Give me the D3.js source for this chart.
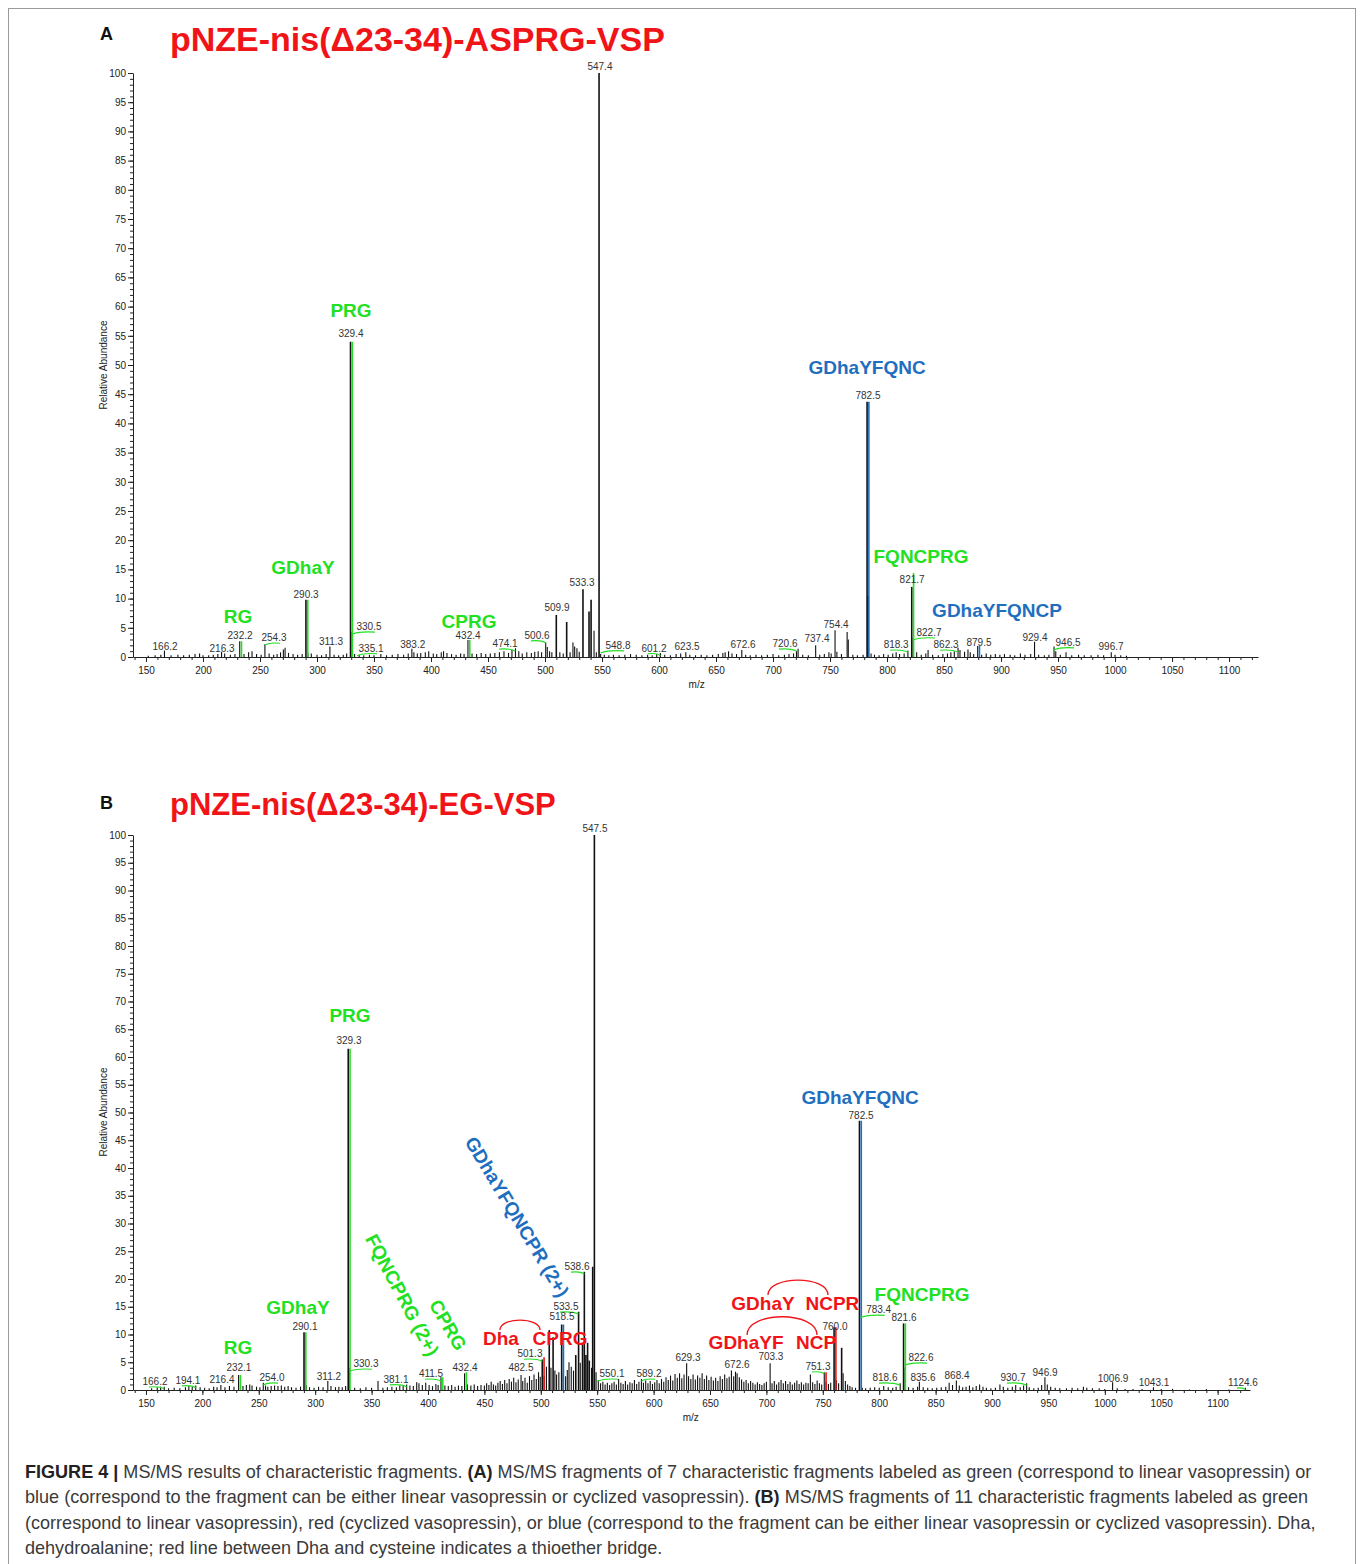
<!DOCTYPE html>
<html><head><meta charset="utf-8">
<script src="https://cdn.jsdelivr.net/npm/d3@7"></script>
<style>
body{margin:0;background:#fff;}
svg{display:block;font-family:"Liberation Sans",Arial,sans-serif;}
</style></head><body>
<svg id="c" width="1360" height="1564"></svg>
<script>
// ---------------- DATA ----------------
const xTickValues=[150,200,250,300,350,400,450,500,550,600,650,700,750,800,850,900,950,1000,1050,1100];
const yTickValues=[0,5,10,15,20,25,30,35,40,45,50,55,60,65,70,75,80,85,90,95,100];
const panelLetters=["A","B"];
const titles=["pNZE-nis(\u039423-34)-ASPRG-VSP","pNZE-nis(\u039423-34)-EG-VSP"];
const yAxisTitle="Relative Abundance";
const xAxisTitle="m/z";

// Panel A spectrum: [m/z, relative abundance]
const peaksA=[[152,0.2],[158,0.3],[163,0.4],[166.2,1.1],[172,0.3],[178,0.4],[183,0.3],[188,0.4],[193,0.5],[197,0.6],[200,0.3],[205,0.3],[209,0.4],[213,0.5],[216.3,0.9],[219,0.6],[224,0.4],[228,0.5],[232.2,2.7],[236,0.5],[240,0.8],[243,1.0],[247,0.5],[251,0.4],[254.3,2.2],[258,0.6],[262,0.4],[265,0.5],[268,0.8],[270.5,1.3],[272,1.6],[275,0.7],[279,0.5],[283,0.4],[287,0.5],[290.3,9.8],[292,0.7],[295,0.6],[300,0.4],[304,0.3],[308,0.5],[311.3,1.8],[315,0.4],[319,0.3],[323,0.4],[326,0.6],[329.4,54],[330.8,4.3],[333,0.5],[337,0.4],[341,0.3],[346,0.4],[350,0.3],[356,0.5],[361,0.3],[366,0.4],[371,0.5],[376,0.4],[380,0.6],[383.2,1.4],[385,0.8],[388,0.6],[391,0.7],[395,0.8],[398,1.0],[402,0.6],[405,0.5],[409,0.8],[411,1.0],[414,0.7],[418,0.5],[422,0.4],[426,0.6],[429,0.5],[432.4,2.9],[436,0.6],[440,0.5],[444,0.7],[448,0.5],[452,0.6],[456,0.7],[460,0.8],[464,1.0],[468,0.7],[471,1.2],[474.1,1.5],[477,1.0],[480,0.6],[484,0.8],[488,0.7],[491,0.9],[494,1.0],[497,0.8],[500.6,2.5],[502,1.7],[504,1.0],[506,0.8],[509.9,7.2],[513,0.8],[516,0.6],[519,6.0],[522,0.8],[524.5,2.5],[526,1.8],[528,1.5],[530,0.9],[533.3,11.6],[538.6,7.8],[540.4,9.8],[543,4.5],[545,0.8],[547.4,100],[548.8,0.5],[552,0.4],[556,0.3],[560,0.4],[565,0.3],[570,0.4],[575,0.5],[580,0.4],[585,0.3],[590,0.4],[594,0.3],[598,0.5],[601.2,0.7],[605,0.4],[610,0.3],[615,0.5],[619,0.6],[623.5,0.8],[627,0.4],[632,0.3],[637,0.4],[642,0.3],[647,0.4],[652,0.5],[656,0.7],[658,0.8],[661,1.0],[664,0.6],[668,0.5],[672.6,1.2],[676,0.4],[680,0.3],[685,0.4],[690,0.3],[695,0.4],[700,0.5],[705,0.3],[710,0.4],[714,0.5],[718,0.6],[720.6,1.0],[722,1.4],[726,0.4],[731,0.3],[737.4,2.0],[741,0.4],[745,0.5],[749,0.8],[751,0.6],[754.4,4.6],[756,0.9],[760,0.5],[765,4.3],[766,3.0],[770,0.4],[774,0.3],[779,0.4],[782.5,43.7],[783.5,10.5],[786,0.6],[789,0.4],[793,0.3],[797,0.5],[801,0.4],[805,0.6],[808,0.8],[811,0.5],[815,0.6],[818.3,1.1],[821.7,12],[823,3.3],[826,0.8],[830,0.4],[834,0.6],[836,1.2],[840,0.4],[845,0.3],[849,0.5],[853,0.6],[856,0.8],[859,1.0],[862.3,1.6],[864,1.2],[868,0.9],[871,1.3],[873,0.8],[876,0.5],[879.5,1.9],[883,0.4],[887,0.6],[891,0.4],[895,0.5],[899,0.4],[903,0.5],[908,0.4],[912,0.3],[917,0.6],[921,0.4],[926,0.5],[929.4,2.6],[933,0.4],[938,0.3],[942,0.4],[946.5,1.8],[948,1.0],[952,0.4],[957,0.8],[962,0.3],[968,0.4],[973,0.3],[979,0.3],[985,0.4],[990,0.3],[996.7,0.8],[1000,0.4],[1005,0.3],[1010,0.2]];

// [label, peak m/z, label m/z, label level, has leader]
const mzLabelsA=[["166.2",166.2,166.7,1.2,0],["216.3",216.3,216.7,0.9,0],["232.2",232.2,232.5,3.1,0],["254.3",254.3,262.3,2.7,1],["290.3",290.3,290.4,10.1,0],["311.3",311.3,312.3,2.05,0],["329.4",329.4,329.8,54.8,0],["330.5",330.5,345.6,4.6,1],["335.1",335.1,347.4,0.9,1],["383.2",383.2,384,1.5,0],["432.4",432.4,432.5,3.1,0],["474.1",474.1,465,1.7,1],["500.6",500.6,493,3.1,1],["509.9",509.9,510.5,7.9,0],["533.3",533.3,532.5,12.2,0],["547.4",547.4,548.2,100.5,0],["548.8",548.8,564,1.4,1],["601.2",601.2,595.6,0.9,1],["623.5",623.5,624.6,1.2,0],["672.6",672.6,673.7,1.5,0],["720.6",720.6,710.5,1.7,1],["737.4",737.4,738.6,2.6,0],["754.4",754.4,755.3,5.0,0],["782.5",782.5,783.3,44.2,0],["818.3",818.3,808,1.5,1],["821.7",821.7,822,12.7,0],["822.7",822.7,836.8,3.6,1],["862.3",862.3,851.8,1.5,1],["879.5",879.5,880.7,1.9,0],["929.4",929.4,929.8,2.7,0],["946.5",946.5,958.8,1.9,1],["996.7",996.7,996.5,1.2,0]];

// [m/z, top level, colour class]
const fragLinesA=[[232.2,2.7,"g"],[290.3,9.8,"g"],[329.4,54,"g"],[432.4,2.9,"g"],[782.5,43.7,"b"],[821.7,14.4,"g"],[879.5,1.9,"b"]];
// [text, m/z, level, colour class]
const fragLabelsA=[["PRG",329.8,58.2,"g"],["GDhaY",287.7,14.2,"g"],["RG",230.7,5.8,"g"],["CPRG",433.3,5.0,"g"],["GDhaYFQNC",782.5,48.5,"b"],["FQNCPRG",829.8,16.1,"g"],["GDhaYFQNCP",896.5,6.9,"b"]];

// Panel B spectrum
const peaksB=[[155,0.3],[160,0.5],[163,0.6],[166.2,0.6],[170,0.3],[175,0.4],[180,0.3],[185,0.5],[188,0.7],[191,0.6],[194.1,0.8],[198,0.5],[202,0.4],[206,0.3],[210,0.6],[213,0.5],[216.4,0.9],[220,0.5],[224,0.7],[228,0.6],[232.1,2.7],[236,0.7],[239,0.9],[242,1.0],[244,0.8],[248,0.6],[251,0.5],[254.0,1.3],[256,0.8],[258,0.6],[261,0.7],[264,0.8],[267,0.7],[270,0.8],[273,0.6],[276,0.7],[279,0.5],[283,0.4],[287,0.6],[290.1,10.4],[292,0.9],[295,0.5],[299,0.4],[303,0.6],[307,0.5],[311.2,1.6],[314,0.7],[318,0.5],[321,0.6],[324,0.5],[327,0.7],[329.3,61.5],[330.3,4.0],[335,0.4],[340,0.3],[345,0.5],[350,0.4],[355.7,1.6],[360,0.4],[364,0.5],[368,0.6],[372,0.5],[375,0.8],[378,0.9],[381.1,1.0],[384,0.8],[387,0.7],[390,1.4],[392,1.2],[395,0.9],[398,1.3],[401,0.9],[404,0.7],[407,1.1],[409,0.9],[411.5,2.3],[415,0.8],[418,0.7],[421,0.9],[424,0.6],[427,0.8],[430,0.7],[432.4,3.0],[435,1.0],[438,0.8],[441,1.0],[444,0.7],[447,0.9],[450,0.8],[452,1.2],[454,0.9],[456,1.5],[458,1.0],[460,0.8],[462,1.3],[464,1.6],[466,1.1],[468,1.8],[470,1.2],[472,2.0],[474,1.5],[476,2.2],[478,1.4],[480,1.9],[482.5,2.7],[484,1.6],[486,2.2],[488,1.3],[490,2.5],[492,1.8],[494,2.8],[496,2.0],[498,3.2],[499.5,2.4],[501.3,5.5],[503,2.6],[505,4.2],[507.5,10.8],[509,4.0],[510.9,9.5],[512.5,3.5],[514,2.8],[516,3.2],[518.5,11.8],[520,3.0],[522,2.5],[523.5,3.6],[525,5.0],[527,4.2],[529,3.5],[531,6.3],[533.5,14.1],[535,4.9],[537,8.5],[538.6,21.3],[540,6.3],[541.5,8.5],[543,5.3],[545,4.0],[546,22.2],[547.5,100],[549,3.2],[551,1.8],[553,1.2],[555,1.5],[557,1.0],[559,1.3],[561,0.9],[563,1.2],[565,1.5],[567,1.0],[569,2.0],[571,1.3],[573,1.1],[575,1.6],[577,1.0],[579,1.4],[581,1.2],[583,1.8],[585,1.1],[587,1.5],[589.2,2.0],[591,1.3],[593,1.7],[595,1.2],[597,1.6],[599,1.1],[601,1.4],[603,1.8],[605,1.2],[607,2.0],[609,1.5],[611,2.3],[613,1.8],[615,2.6],[617,1.7],[619,2.9],[621,2.2],[623,3.0],[625,2.1],[627,2.8],[629.3,4.8],[631,2.5],[633,2.0],[635,2.8],[637,1.9],[639,2.6],[641,2.2],[643,3.0],[645,2.0],[647,2.6],[649,1.8],[651,2.4],[653,1.7],[655,2.2],[657,1.6],[659,2.5],[661,2.0],[663,2.8],[665,2.1],[667,2.4],[669,3.5],[671,2.5],[672.6,3.3],[674,3.0],[676,2.3],[678,1.9],[680,1.5],[682,1.8],[684,1.2],[686,1.6],[688,1.3],[690,1.0],[692,1.4],[694,1.1],[696,0.9],[698,1.2],[700,1.5],[703.3,4.8],[705,1.2],[707,1.6],[709,1.0],[711,1.4],[713,1.8],[715,1.2],[717,1.6],[719,1.1],[721,1.5],[723,1.0],[725,1.3],[727,1.7],[729,1.1],[731,1.4],[733,1.0],[735,1.3],[737,1.2],[739,2.8],[741,1.4],[743,1.1],[745,1.7],[747,1.2],[749,1.0],[751.3,3.2],[753,1.5],[755,1.1],[757,1.3],[760.0,11.3],[762,1.8],[764,1.2],[766.7,7.6],[768,3.0],[770,1.6],[772,1.0],[774,0.7],[776,0.5],[779,0.4],[782.5,48.5],[785,0.4],[788,0.3],[792,0.4],[796,0.5],[800,0.4],[804,0.7],[808,0.5],[812,0.4],[815,0.6],[818.6,1.2],[821.6,12],[823,4.0],[826,0.5],[830,0.4],[834,0.6],[835.6,1.5],[839,0.5],[843,0.4],[847,0.3],[851,0.4],[855,0.5],[859,0.6],[862,1.3],[865,0.9],[868.4,1.7],[871,0.8],[874,0.5],[877,0.6],[880,0.8],[883,0.5],[886,0.7],[889,1.0],[892,0.6],[895,0.4],[899,0.3],[903,0.4],[907,1.0],[910,0.6],[914,0.4],[918,0.6],[921,0.9],[925,0.5],[928,0.8],[930.7,1.2],[933,0.5],[937,0.3],[941,0.4],[944,0.9],[946.9,2.3],[949,1.0],[952,0.6],[956,0.4],[960,0.3],[966,0.3],[971,0.4],[976,0.3],[981,0.6],[984,0.4],[989,0.3],[995,0.3],[1000,0.2],[1006.9,1.4],[1011,0.3],[1018,0.2],[1025,0.2],[1033,0.2],[1043.1,0.5],[1050,0.2],[1060,0.2],[1075,0.1],[1090,0.2],[1110,0.1],[1124.6,0.4]];

const mzLabelsB=[["166.2",166.2,158,0.9,1],["194.1",194.1,187.2,1.1,1],["216.4",216.4,217.4,1.3,0],["232.1",232.1,232.4,3.4,0],["254.0",254.0,261.7,1.6,1],["290.1",290.1,291,10.9,0],["311.2",311.2,312.2,1.8,0],["329.3",329.3,330,62.3,0],["330.3",330.3,345,4.1,1],["381.1",381.1,371.6,1.3,1],["411.5",411.5,402.7,2.3,1],["432.4",432.4,432.8,3.4,0],["482.5",482.5,482.4,3.4,0],["501.3",501.3,490.4,5.9,1],["518.5",518.5,518.8,12.6,0],["533.5",533.5,522.3,14.4,1],["538.6",538.6,532.1,21.6,1],["547.5",547.5,548,100.5,0],["550.1",550.1,563.1,2.3,1],["589.2",589.2,595.9,2.3,1],["629.3",629.3,630.5,5.2,0],["672.6",672.6,674,4.0,0],["703.3",703.3,704,5.4,0],["751.3",751.3,745.7,3.6,1],["760.0",760.0,760.8,10.8,0],["782.5",782.5,783.9,48.8,0],["783.4",783.4,799.5,13.8,1],["818.6",818.6,805.1,1.6,1],["821.6",821.6,822,12.4,0],["822.6",822.6,837,5.2,1],["835.6",835.6,838.8,1.6,0],["868.4",868.4,869,2.0,0],["930.7",930.7,918.6,1.6,1],["946.9",946.9,947,2.5,0],["1006.9",1006.9,1007.3,1.4,0],["1043.1",1043.1,1043.6,0.7,0],["1124.6",1124.6,1122.5,0.7,1]];

const fragLinesB=[[232.1,2.7,"g"],[290.1,10.4,"g"],[329.3,61.5,"g"],[411.5,2.3,"g"],[432.4,3.2,"g"],[501.3,5.9,"r"],[518.5,11.8,"b"],[751.3,3.2,"r"],[760.0,11.3,"r"],[782.5,48.5,"b"],[821.6,12,"g"]];
const fragLabelsB=[["PRG",330.9,66.3,"g"],["GDhaY",284.8,13.7,"g"],["RG",231.6,6.5,"g"],["GDhaYFQNC",783,51.5,"b"],["FQNCPRG",838,16,"g"],["GDhaY",697,14.4,"r"],["NCPR",758.5,14.4,"r"],["GDhaYF",682,7.4,"r"],["NCP",744,7.4,"r"],["Dha",464.7,8.1,"r"],["CPRG",517,8.1,"r"]];
// [text, centre m/z, centre level, colour, angle]
const rotLabelsB=[["GDhaYFQNCPR (2+)",478.9,31.2,"b",59],["FQNCPRG (2+)",377,17.1,"g",62],["CPRG",417.7,11.7,"g",60]];
// thioether bridges: [m/z start, m/z end, end level, top level]
const bridgesB=[[463.8,499.3,10.8,12.6],[701.4,754.6,17.1,19.8],[682.8,744.9,9.9,13.2]];

const captionLines=[
 [["FIGURE 4 |",1],[" MS/MS results of characteristic fragments. ",0],["(A)",1],[" MS/MS fragments of 7 characteristic fragments labeled as green (correspond to linear vasopressin) or",0]],
 [["blue (correspond to the fragment can be either linear vasopressin or cyclized vasopressin). ",0],["(B)",1],[" MS/MS fragments of 11 characteristic fragments labeled as green",0]],
 [["(correspond to linear vasopressin), red (cyclized vasopressin), or blue (correspond to the fragment can be either linear vasopressin or cyclized vasopressin). Dha,",0]],
 [["dehydroalanine; red line between Dha and cysteine indicates a thioether bridge.",0]]
];

// ---------------- DRAW ----------------
const COL={g:"#22e022",b:"#1f6fc0",r:"#f01418"};
const svg=d3.select("#c");
svg.append("rect").attr("x",8.5).attr("y",8.5).attr("width",1347).attr("height",1570)
  .attr("fill","none").attr("stroke","#9a9a9a").attr("stroke-width",1);

const panels=[
 {peaks:peaksA,labels:mzLabelsA,lines:fragLinesA,frags:fragLabelsA,rot:[],bridges:[],
  xr:[133,1258],xd:[138.6,1125.4],yr:[657,73],letterY:40,titleY:51,titleFs:34,ylabY:365,mzY:688},
 {peaks:peaksB,labels:mzLabelsB,lines:fragLinesB,frags:fragLabelsB,rot:rotLabelsB,bridges:bridgesB,
  xr:[133,1250],xd:[138.5,1128.7],yr:[1390,835],letterY:809,titleY:815,titleFs:31,ylabY:1112,mzY:1421}
];

panels.forEach((p,i)=>{
  const g=svg.append("g");
  const x=d3.scaleLinear().domain(p.xd).range(p.xr);
  const y=d3.scaleLinear().domain([0,100]).range(p.yr);
  const y0=y(0);

  g.append("text").attr("x",100).attr("y",p.letterY).attr("font-size",18).attr("font-weight","bold")
    .attr("fill","#111").text(panelLetters[i]);
  g.append("text").attr("x",170).attr("y",p.titleY).attr("font-size",p.titleFs).attr("font-weight","bold")
    .attr("fill","#f01418").text(titles[i]);

  // y axis minor + major
  g.append("g").attr("transform",`translate(${p.xr[0]},0)`)
    .call(d3.axisLeft(y).tickValues(d3.range(0,101,1)).tickSize(3).tickFormat("").tickSizeOuter(0))
    .call(s=>{s.select(".domain").remove();s.selectAll("line").attr("stroke","#222");});
  g.append("g").attr("transform",`translate(${p.xr[0]},0)`)
    .call(d3.axisLeft(y).tickValues(yTickValues).tickSize(5).tickPadding(2).tickSizeOuter(0))
    .call(s=>{s.select(".domain").attr("stroke","#222");s.selectAll("line").attr("stroke","#222");
      s.selectAll("text").attr("font-size",10).attr("fill","#222").attr("font-family","Liberation Sans, Arial, sans-serif");});
  // x axis
  g.append("g").attr("transform",`translate(0,${y0})`)
    .call(d3.axisBottom(x).tickValues(d3.range(140,1130,10)).tickSize(3).tickFormat("").tickSizeOuter(0))
    .call(s=>{s.select(".domain").remove();s.selectAll("line").attr("stroke","#222");});
  g.append("g").attr("transform",`translate(0,${y0})`)
    .call(d3.axisBottom(x).tickValues(xTickValues).tickFormat(d3.format("d")).tickSize(5).tickPadding(5).tickSizeOuter(0))
    .call(s=>{s.select(".domain").attr("stroke","#222");s.selectAll("line").attr("stroke","#222");
      s.selectAll("text").attr("font-size",10).attr("fill","#222").attr("font-family","Liberation Sans, Arial, sans-serif");});

  g.append("text").attr("transform",`translate(107,${p.ylabY}) rotate(-90)`).attr("text-anchor","middle")
    .attr("font-size",10).attr("fill","#222").text(yAxisTitle);
  g.append("text").attr("x",x(633)).attr("y",p.mzY).attr("text-anchor","middle")
    .attr("font-size",10).attr("fill","#222").text(xAxisTitle);

  // peaks
  g.append("g").selectAll("line").data(p.peaks).join("line")
    .attr("x1",d=>x(d[0])).attr("x2",d=>x(d[0])).attr("y1",y0).attr("y2",d=>y(d[1]))
    .attr("stroke","#111").attr("stroke-width",d=>d[1]>5?1.6:1.1);
  // coloured fragment lines
  g.append("g").selectAll("line").data(p.lines).join("line")
    .attr("x1",d=>x(d[0])+1.8).attr("x2",d=>x(d[0])+1.8).attr("y1",y0).attr("y2",d=>y(d[1]))
    .attr("stroke",d=>COL[d[2]]).attr("stroke-width",1.6);
  // leaders
  g.append("g").selectAll("path").data(p.labels.filter(d=>d[4])).join("path")
    .attr("d",d=>{const x1=x(d[1]),x2=x(d[2]),yy=y(d[3]);
      return `M${x1},${yy+4} Q${(x1+x2)/2},${yy+1} ${x2+(x2>x1?6:-6)},${yy+2}`;})
    .attr("fill","none").attr("stroke",COL.g).attr("stroke-width",1.2);
  // numeric labels
  g.append("g").selectAll("text").data(p.labels).join("text")
    .attr("x",d=>x(d[2])).attr("y",d=>y(d[3])).attr("text-anchor","middle")
    .attr("font-size",10).attr("fill","#333").text(d=>d[0]);
  // fragment labels
  g.append("g").selectAll("text").data(p.frags).join("text")
    .attr("x",d=>x(d[1])).attr("y",d=>y(d[2])).attr("text-anchor","middle")
    .attr("font-size",19).attr("font-weight","bold").attr("fill",d=>COL[d[3]]).text(d=>d[0]);
  g.append("g").selectAll("text").data(p.rot).join("text")
    .attr("transform",d=>`translate(${x(d[1])},${y(d[2])}) rotate(${d[4]})`)
    .attr("text-anchor","middle").attr("dominant-baseline","central")
    .attr("font-size",19).attr("font-weight","bold").attr("fill",d=>COL[d[3]]).text(d=>d[0]);
  // bridges
  g.append("g").selectAll("path").data(p.bridges).join("path")
    .attr("d",d=>{const x1=x(d[0]),x2=x(d[1]),ye=y(d[2]),yt=y(d[3]);
      const yc=(yt-0.25*ye)/0.75;
      return `M${x1},${ye} C${x1},${yc} ${x2},${yc} ${x2},${ye}`;})
    .attr("fill","none").attr("stroke",COL.r).attr("stroke-width",1.3);
});

// caption
const cap=svg.append("g").attr("fill","#333");
const capTexts=captionLines.map((ln,i)=>{
  const t=cap.append("text").attr("x",0).attr("y",0).attr("font-size",18);
  ln.forEach(seg=>t.append("tspan").attr("font-weight",seg[1]?"bold":"normal")
    .attr("fill",seg[1]?"#222":"#3a3a3a").text(seg[0]));
  return t;
});
const w0=capTexts[0].node().getComputedTextLength();
const sx=1288/w0;
capTexts.forEach((t,i)=>t.attr("transform",`translate(25,${1478+i*25.3}) scale(${sx},1)`));
</script>
</body></html>
